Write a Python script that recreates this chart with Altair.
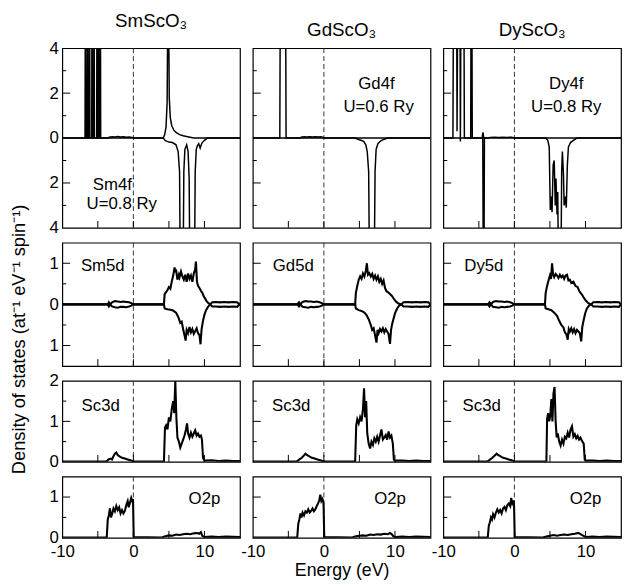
import altair as alt
import pandas as pd

FONT = "Liberation Sans"

COMPOUNDS = ["SmScO₃", "GdScO₃", "DyScO₃"]
Y_TITLE = "Density of states (at⁻¹ eV⁻¹ spin⁻¹)"
X_TITLE = "Energy (eV)"

# ---------------- Row 1: 4f (spin up positive, spin down plotted negative)
SM4F_UP = [(-10, 0), (-6.8, 0), (-6.76, 6), (-6.72, 6), (-6.68, 0), (-6.5, 0), (-6.47, 6), (-6.43, 6),
           (-6.4, 0), (-6.22, 0), (-6.19, 6), (-6.15, 6), (-6.12, 0), (-5.86, 0), (-5.83, 6), (-5.79, 6),
           (-5.76, 0), (-5.58, 0), (-5.55, 6), (-5.51, 6), (-5.48, 0), (-5.16, 0), (-5.13, 6), (-5.09, 6),
           (-5.06, 0), (-4.93, 0), (-4.9, 6), (-4.86, 6), (-4.83, 0), (-4.7, 0), (-4.67, 6), (-4.63, 6),
           (-4.6, 0), (-3.6, 0), (-3.4, 0.04), (-3.0, 0.06), (-2.6, 0.05), (-2.2, 0.07), (-1.8, 0.05),
           (-1.4, 0.06), (-1.0, 0.04), (-0.6, 0.05), (-0.2, 0.03), (0.2, 0), (4.2, 0), (4.4, 0.15),
           (4.6, 0.5), (4.75, 1.6), (4.85, 6), (4.95, 6), (5.05, 1.8), (5.2, 0.9), (5.4, 0.55), (5.7, 0.35),
           (6.0, 0.25), (6.5, 0.15), (7.0, 0.1), (7.8, 0.05), (8.5, 0), (15, 0)]
SM4F_DN = [(-10, 0), (4.2, 0), (4.5, 0.12), (5.0, 0.18), (5.5, 0.2), (6.0, 0.3), (6.3, 0.6), (6.5, 1.5),
           (6.6, 6), (7.0, 6), (7.1, 1.5), (7.25, 0.5), (7.5, 0.3), (7.7, 0.6), (7.85, 1.8), (7.95, 6),
           (8.6, 6), (8.7, 1.5), (8.85, 0.5), (9.0, 0.35), (9.2, 0.25), (9.4, 0.45), (9.55, 0.3),
           (9.7, 0.2), (10.0, 0.1), (10.4, 0), (15, 0)]
GD4F_UP = [(-10, 0), (-6.2, 0), (-6.14, 6), (-5.38, 6), (-5.32, 0), (-3.4, 0), (-3.2, 0.04), (-2.8, 0.06),
           (-2.4, 0.05), (-2.0, 0.06), (-1.6, 0.05), (-1.2, 0.06), (-0.8, 0.05), (-0.4, 0.06),
           (-0.1, 0.03), (0.2, 0), (15, 0)]
GD4F_DN = [(-10, 0), (4.4, 0), (4.7, 0.05), (5.2, 0.1), (5.6, 0.15), (5.9, 0.3), (6.1, 0.6), (6.3, 1.5),
           (6.42, 6), (7.08, 6), (7.2, 1.5), (7.35, 0.5), (7.6, 0.25), (8.0, 0.12), (8.5, 0.05), (9.0, 0),
           (15, 0)]
DY4F_UP = [(-10, 0), (-8.65, 0), (-8.58, 6), (-8.12, 6), (-8.07, 0.3), (-7.98, 6), (-7.66, 6),
           (-7.6, -0.15), (-7.52, 6), (-7.1, 6), (-7.04, 0), (-6.15, 0), (-6.1, 6), (-5.98, 6),
           (-5.93, 0), (-4.55, 0), (-4.42, 0.25), (-4.32, 0), (-3.7, 0), (-3.4, 0.03), (-2.8, 0.04),
           (-2.2, 0.03), (-1.6, 0.04), (-1.0, 0.03), (-0.4, 0.04), (0, 0), (15, 0)]
DY4F_DN = [(-10, 0), (-4.45, 0), (-4.38, 6), (-4.28, 6), (-4.22, 0), (4.4, 0), (4.7, 0.1), (4.9, 0.4),
           (5.05, 3.2), (5.15, 2.6), (5.3, 3.3), (5.45, 1.2), (5.6, 1.0), (5.75, 3.0), (5.85, 1.8),
           (6.0, 3.4), (6.1, 2.4), (6.2, 6), (6.55, 6), (6.65, 1.5), (6.75, 0.6), (6.9, 1.6), (7.0, 3.0),
           (7.15, 2.6), (7.3, 3.1), (7.45, 1.2), (7.6, 0.4), (7.9, 0.2), (8.3, 0.1), (8.8, 0), (15, 0)]

# ---------------- Row 2: 5d
SM5D_UP = [(-10, 0), (-3.6, 0), (-3.45, 0.05), (-3.25, 0), (-3.0, 0.05), (-2.6, 0.08), (-2.2, 0.07),
           (-1.8, 0.06), (-1.4, 0.07), (-1.0, 0.06), (-0.6, 0.05), (-0.3, 0.03), (0, 0), (4.3, 0),
           (4.4, 0.25), (4.6, 0.3), (4.8, 0.35), (5.0, 0.42), (5.2, 0.38), (5.4, 0.55), (5.6, 0.7),
           (5.8, 0.9), (5.9, 0.78), (6.0, 0.85), (6.2, 0.6), (6.4, 0.72), (6.5, 0.66), (6.7, 0.8),
           (6.9, 0.68), (7.1, 0.6), (7.3, 0.72), (7.5, 0.55), (7.7, 0.75), (7.9, 0.62), (8.1, 0.7),
           (8.3, 0.55), (8.5, 0.75), (8.7, 0.85), (8.8, 1.04), (8.95, 0.55), (9.1, 0.45), (9.3, 0.4),
           (9.5, 0.33), (9.7, 0.28), (9.9, 0.2), (10.1, 0.14), (10.3, 0.08), (10.5, 0.04), (10.8, 0),
           (11.1, 0.05), (11.6, 0.06), (12.2, 0.05), (12.8, 0.06), (13.4, 0.05), (14.0, 0.06),
           (14.6, 0.05), (14.9, 0), (15, 0.03)]
SM5D_DN = [(-10, 0), (-3.6, 0), (-3.45, 0.05), (-3.25, 0), (-3.0, 0.05), (-2.6, 0.07), (-2.2, 0.08),
           (-1.8, 0.06), (-1.4, 0.06), (-1.0, 0.07), (-0.6, 0.05), (-0.3, 0.03), (0, 0), (4.3, 0),
           (4.4, 0.1), (4.8, 0.12), (5.2, 0.13), (5.6, 0.15), (6.0, 0.2), (6.3, 0.3), (6.6, 0.45),
           (6.8, 0.42), (7.0, 0.6), (7.2, 0.75), (7.35, 0.88), (7.5, 0.62), (7.7, 0.7), (7.9, 0.55),
           (8.1, 0.68), (8.3, 0.6), (8.5, 0.72), (8.7, 0.65), (8.9, 0.58), (9.1, 0.7), (9.3, 0.75),
           (9.45, 0.97), (9.6, 0.6), (9.8, 0.4), (10.0, 0.25), (10.2, 0.15), (10.5, 0.06), (10.8, 0),
           (11.1, 0.05), (11.6, 0.05), (12.2, 0.06), (12.8, 0.05), (13.4, 0.06), (14.0, 0.05),
           (14.6, 0.06), (14.9, 0), (15, 0.03)]
GD5D_UP = [(-10, 0), (-3.7, 0), (-3.5, 0.05), (-3.3, 0), (-3.0, 0.06), (-2.6, 0.08), (-2.2, 0.07),
           (-1.8, 0.07), (-1.4, 0.06), (-1.0, 0.07), (-0.6, 0.05), (-0.3, 0.03), (0, 0), (4.4, 0),
           (4.5, 0.28), (4.7, 0.45), (4.9, 0.6), (5.1, 0.68), (5.3, 0.62), (5.5, 0.75), (5.7, 0.68),
           (5.9, 0.82), (6.05, 1.0), (6.2, 0.72), (6.4, 0.76), (6.6, 0.68), (6.8, 0.74), (7.0, 0.62),
           (7.2, 0.7), (7.4, 0.6), (7.6, 0.68), (7.8, 0.55), (8.0, 0.62), (8.2, 0.5), (8.4, 0.58),
           (8.6, 0.4), (8.8, 0.32), (9.0, 0.3), (9.3, 0.25), (9.6, 0.2), (9.9, 0.12), (10.2, 0.06),
           (10.5, 0.02), (10.9, 0), (11.2, 0.05), (11.8, 0.06), (12.4, 0.05), (13.0, 0.06),
           (13.6, 0.05), (14.2, 0.06), (14.7, 0.05), (15, 0)]
GD5D_DN = [(-10, 0), (-3.7, 0), (-3.5, 0.05), (-3.3, 0), (-3.0, 0.06), (-2.6, 0.07), (-2.2, 0.08),
           (-1.8, 0.06), (-1.4, 0.07), (-1.0, 0.06), (-0.6, 0.05), (-0.3, 0.03), (0, 0), (4.4, 0),
           (4.5, 0.1), (4.9, 0.14), (5.3, 0.16), (5.7, 0.2), (6.0, 0.26), (6.3, 0.36), (6.6, 0.5),
           (6.8, 0.62), (7.0, 0.58), (7.2, 0.75), (7.4, 0.93), (7.55, 0.62), (7.7, 0.7), (7.9, 0.6),
           (8.1, 0.66), (8.3, 0.58), (8.5, 0.68), (8.7, 0.6), (8.9, 0.66), (9.1, 0.72), (9.3, 0.96),
           (9.45, 0.62), (9.6, 0.48), (9.8, 0.35), (10.0, 0.22), (10.3, 0.1), (10.6, 0.03), (10.9, 0),
           (11.2, 0.05), (11.8, 0.05), (12.4, 0.06), (13.0, 0.05), (13.6, 0.06), (14.2, 0.05),
           (14.7, 0.06), (15, 0)]
DY5D_UP = [(-10, 0), (-3.7, 0), (-3.5, 0.05), (-3.3, 0), (-3.0, 0.06), (-2.6, 0.08), (-2.2, 0.07),
           (-1.8, 0.07), (-1.4, 0.06), (-1.0, 0.07), (-0.6, 0.05), (-0.3, 0.03), (0, 0), (4.3, 0),
           (4.4, 0.28), (4.6, 0.45), (4.8, 0.58), (5.0, 0.7), (5.15, 0.62), (5.3, 1.0), (5.45, 0.72),
           (5.6, 0.66), (5.8, 0.74), (6.0, 0.7), (6.2, 0.64), (6.4, 0.72), (6.6, 0.66), (6.8, 0.7),
           (7.0, 0.62), (7.2, 0.7), (7.4, 0.72), (7.6, 0.58), (7.8, 0.6), (8.0, 0.52), (8.3, 0.55),
           (8.6, 0.45), (8.9, 0.42), (9.2, 0.3), (9.5, 0.24), (9.8, 0.15), (10.1, 0.08), (10.4, 0.03),
           (10.8, 0), (11.1, 0.05), (11.7, 0.06), (12.3, 0.05), (12.9, 0.06), (13.5, 0.05),
           (14.1, 0.06), (14.7, 0.05), (15, 0)]
DY5D_DN = [(-10, 0), (-3.7, 0), (-3.5, 0.05), (-3.3, 0), (-3.0, 0.06), (-2.6, 0.07), (-2.2, 0.08),
           (-1.8, 0.06), (-1.4, 0.07), (-1.0, 0.06), (-0.6, 0.05), (-0.3, 0.03), (0, 0), (4.3, 0),
           (4.4, 0.1), (4.8, 0.12), (5.2, 0.14), (5.6, 0.2), (6.0, 0.28), (6.3, 0.4), (6.6, 0.5),
           (6.9, 0.56), (7.1, 0.68), (7.3, 0.72), (7.5, 0.86), (7.65, 0.6), (7.8, 0.66), (8.0, 0.58),
           (8.2, 0.68), (8.4, 0.6), (8.6, 0.7), (8.8, 0.62), (9.0, 0.66), (9.2, 0.7), (9.4, 0.9),
           (9.55, 0.55), (9.75, 0.38), (9.95, 0.22), (10.2, 0.1), (10.5, 0.03), (10.8, 0),
           (11.1, 0.05), (11.7, 0.05), (12.3, 0.06), (12.9, 0.05), (13.5, 0.06), (14.1, 0.05),
           (14.7, 0.06), (15, 0)]

# ---------------- Row 3: Sc3d
SM_SC3D = [(-10, 0.005), (-4, 0.005), (-3.7, 0.02), (-3.5, 0.06), (-3.2, 0.08), (-3.0, 0.06),
           (-2.8, 0.14), (-2.6, 0.2), (-2.4, 0.23), (-2.2, 0.17), (-2.0, 0.14), (-1.6, 0.1),
           (-1.2, 0.08), (-0.8, 0.06), (-0.4, 0.04), (0, 0.01), (4.3, 0.01), (4.45, 0.85), (4.6, 0.9),
           (4.8, 0.8), (5.0, 1.1), (5.2, 1.0), (5.4, 1.3), (5.6, 1.5), (5.75, 1.2), (5.9, 2.0),
           (6.05, 1.1), (6.2, 0.6), (6.4, 0.5), (6.6, 0.35), (6.8, 0.45), (7.0, 0.55), (7.2, 0.65),
           (7.4, 0.8), (7.55, 0.95), (7.7, 0.7), (7.9, 0.6), (8.1, 0.72), (8.3, 0.62), (8.5, 0.7),
           (8.7, 0.78), (8.9, 0.65), (9.1, 0.7), (9.3, 0.62), (9.5, 0.65), (9.65, 0.55), (9.8, 0.1),
           (10.0, 0.03), (11, 0.04), (12, 0.02), (13, 0.03), (14, 0.02), (15, 0.02)]
GD_SC3D = [(-10, 0.005), (-4, 0.005), (-3.7, 0.02), (-3.4, 0.07), (-3.1, 0.1), (-2.8, 0.16),
           (-2.6, 0.2), (-2.4, 0.17), (-2.1, 0.14), (-1.7, 0.1), (-1.3, 0.08), (-0.9, 0.06),
           (-0.5, 0.04), (0, 0.01), (4.4, 0.01), (4.55, 0.9), (4.7, 1.05), (4.9, 0.95), (5.1, 1.1),
           (5.3, 1.0), (5.5, 1.3), (5.65, 1.82), (5.8, 1.1), (5.95, 1.5), (6.1, 0.7), (6.3, 0.45),
           (6.5, 0.33), (6.7, 0.5), (6.9, 0.42), (7.1, 0.58), (7.3, 0.5), (7.5, 0.62), (7.7, 0.5),
           (7.9, 0.65), (8.1, 0.8), (8.3, 0.55), (8.5, 0.6), (8.7, 0.66), (8.9, 0.55), (9.1, 0.75),
           (9.3, 0.6), (9.5, 0.65), (9.7, 0.45), (9.85, 0.05), (10.0, 0.03), (11, 0.03), (12, 0.02),
           (13, 0.03), (14, 0.02), (15, 0.02)]
DY_SC3D = [(-10, 0.005), (-4, 0.005), (-3.7, 0.02), (-3.4, 0.06), (-3.1, 0.1), (-2.8, 0.15),
           (-2.5, 0.2), (-2.3, 0.17), (-2.0, 0.14), (-1.6, 0.1), (-1.2, 0.08), (-0.8, 0.06),
           (-0.4, 0.04), (0, 0.01), (4.5, 0.01), (4.6, 1.05), (4.75, 1.2), (4.9, 1.0), (5.05, 1.15),
           (5.2, 1.55), (5.35, 1.0), (5.5, 1.7), (5.65, 1.85), (5.8, 1.0), (5.95, 0.6), (6.1, 0.7),
           (6.3, 0.5), (6.5, 0.4), (6.7, 0.55), (6.9, 0.45), (7.1, 0.62), (7.3, 0.58), (7.5, 0.72),
           (7.7, 0.6), (7.9, 0.8), (8.1, 0.88), (8.3, 0.62), (8.5, 0.68), (8.7, 0.58), (8.9, 0.64),
           (9.1, 0.55), (9.3, 0.6), (9.5, 0.52), (9.75, 0.45), (9.9, 0.05), (10.1, 0.03), (11, 0.03),
           (12, 0.02), (13, 0.03), (14, 0.02), (15, 0.02)]

# ---------------- Row 4: O2p
SM_O2P = [(-10, 0.005), (-3.75, 0.01), (-3.6, 0.45), (-3.45, 0.55), (-3.3, 0.72), (-3.15, 0.5),
          (-3.0, 0.58), (-2.8, 0.72), (-2.6, 0.65), (-2.4, 0.78), (-2.2, 0.68), (-2.0, 0.75),
          (-1.8, 0.6), (-1.6, 0.68), (-1.4, 0.6), (-1.2, 0.66), (-1.0, 0.8), (-0.8, 0.9), (-0.65, 0.75),
          (-0.5, 0.85), (-0.3, 0.98), (-0.15, 0.9), (-0.05, 0.95), (0.05, 0.02), (4.0, 0.01),
          (4.5, 0.04), (5.0, 0.06), (5.5, 0.05), (6.0, 0.08), (6.5, 0.07), (7.0, 0.09), (7.5, 0.1),
          (8.0, 0.09), (8.5, 0.11), (9.0, 0.12), (9.3, 0.1), (9.5, 0.14), (9.7, 0.05), (10.0, 0.02),
          (11, 0.03), (12, 0.02), (13, 0.03), (15, 0.02)]
GD_O2P = [(-10, 0.005), (-3.75, 0.01), (-3.6, 0.35), (-3.45, 0.45), (-3.3, 0.6), (-3.15, 0.5),
          (-3.0, 0.62), (-2.8, 0.55), (-2.6, 0.65), (-2.4, 0.62), (-2.2, 0.7), (-2.0, 0.62),
          (-1.8, 0.66), (-1.6, 0.72), (-1.4, 0.65), (-1.2, 0.7), (-1.0, 0.78), (-0.8, 0.85),
          (-0.65, 0.92), (-0.5, 1.06), (-0.35, 0.9), (-0.2, 0.95), (-0.05, 0.85), (0.05, 0.02),
          (4.0, 0.01), (4.5, 0.04), (5.0, 0.05), (5.5, 0.06), (6.0, 0.05), (6.5, 0.08), (7.0, 0.07),
          (7.5, 0.09), (8.0, 0.08), (8.5, 0.1), (9.0, 0.09), (9.3, 0.12), (9.6, 0.08), (9.8, 0.03),
          (10.2, 0.02), (11, 0.03), (12, 0.02), (13, 0.03), (15, 0.02)]
DY_O2P = [(-10, 0.005), (-3.75, 0.01), (-3.6, 0.3), (-3.45, 0.38), (-3.3, 0.5), (-3.15, 0.45),
          (-3.0, 0.58), (-2.8, 0.5), (-2.6, 0.62), (-2.4, 0.7), (-2.2, 0.62), (-2.0, 0.68),
          (-1.8, 0.6), (-1.6, 0.72), (-1.4, 0.76), (-1.2, 0.68), (-1.0, 0.8), (-0.8, 0.84),
          (-0.6, 0.78), (-0.45, 0.98), (-0.3, 0.85), (-0.15, 0.92), (-0.05, 0.8), (0.05, 0.02),
          (4.0, 0.01), (4.5, 0.03), (5.0, 0.05), (5.5, 0.07), (6.0, 0.05), (6.5, 0.07), (7.0, 0.08),
          (7.5, 0.07), (8.0, 0.09), (8.5, 0.1), (9.0, 0.12), (9.3, 0.09), (9.6, 0.06), (9.9, 0.03),
          (10.2, 0.02), (11, 0.03), (12, 0.02), (13, 0.03), (15, 0.02)]

# panel annotations: (text, energy, dos)
LABELS = [
    [[("Sm4f", -2.96, -2.08), ("U=0.8 Ry", -1.64, -2.92)],
     [("Gd4f", 7.4, 2.39), ("U=0.6 Ry", 7.7, 1.37)],
     [("Dy4f", 7.3, 2.39), ("U=0.8 Ry", 7.3, 1.37)]],
    [[("Sm5d", -4.3, 0.94)], [("Gd5d", -4.3, 0.94)], [("Dy5d", -4.3, 0.94)]],
    [[("Sc3d", -4.6, 1.37)], [("Sc3d", -4.6, 1.37)], [("Sc3d", -4.6, 1.37)]],
    [[("O2p", 10.0, 0.94)], [("O2p", 9.3, 0.94)], [("O2p", 10.0, 0.94)]],
]

SERIES = [
    [(SM4F_UP, SM4F_DN), (GD4F_UP, GD4F_DN), (DY4F_UP, DY4F_DN)],
    [(SM5D_UP, SM5D_DN), (GD5D_UP, GD5D_DN), (DY5D_UP, DY5D_DN)],
    [(SM_SC3D, None), (GD_SC3D, None), (DY_SC3D, None)],
    [(SM_O2P, None), (GD_O2P, None), (DY_O2P, None)],
]

X_DOMAIN = [-10, 15]
X_LABELS = [-10, 0, 10]
X_TICKS = [-5, 0, 5, 10]
Y_DOMAINS = [[-4, 4], [-1.5, 1.5], [0, 2], [0, 1.5]]
Y_LABELS = [[4, 2, 0, -2, -4], [1, 0, -1], [0, 1, 2], [0, 1]]
Y_MAJOR = [[2, -2], [1, -1], [1], [1]]
Y_MINOR = [[3, 1, -1, -3], [0.5, -0.5], [0.5, 1.5], [0.5]]

W = 180
HEIGHTS = [182, 125, 82, 62]
ROW_LW = [1.5, 2.1, 2.1, 2.1]


def frame(pairs):
    return pd.DataFrame(pairs, columns=["E", "D"])


def panel(r, c):
    H = HEIGHTS[r]
    LW = ROW_LW[r]
    xs = alt.Scale(domain=X_DOMAIN, nice=False, zero=False)
    ys = alt.Scale(domain=Y_DOMAINS[r], nice=False, zero=False)
    if r == 3:
        if c == 1:
            xax = alt.Axis(values=X_LABELS, title=X_TITLE, labelExpr="'' + datum.value")
        else:
            xax = alt.Axis(values=X_LABELS, title=None, labelExpr="'' + datum.value")
    else:
        xax = None
    if c == 0:
        yax = alt.Axis(values=Y_LABELS[r], labelExpr="'' + abs(datum.value)", title=None)
    else:
        yax = None

    def X():
        return alt.X("E:Q", scale=xs, axis=xax)

    def Y():
        return alt.Y("D:Q", scale=ys, axis=yax)

    layers = []
    layers.append(
        alt.Chart(pd.DataFrame({"E": [0]}))
        .mark_rule(strokeDash=[5, 3], color="#333333", strokeWidth=1)
        .encode(x=X())
    )
    up, dn = SERIES[r][c]
    layers.append(
        alt.Chart(frame(up)).mark_line(color="black", strokeWidth=LW, clip=True)
        .encode(x=X(), y=Y())
    )
    if dn is not None:
        layers.append(
            alt.Chart(frame(dn)).transform_calculate(D="-datum.D")
            .mark_line(color="black", strokeWidth=LW, clip=True)
            .encode(x=X(), y=Y())
        )
    layers.append(
        alt.Chart(pd.DataFrame({"E": X_TICKS})).mark_rule(color="black", strokeWidth=1)
        .encode(x=X(), y=alt.value(H), y2=alt.value(H - 7))
    )
    layers.append(
        alt.Chart(pd.DataFrame({"D": Y_MAJOR[r]})).mark_rule(color="black", strokeWidth=1)
        .encode(y=Y(), x=alt.value(0), x2=alt.value(8))
    )
    layers.append(
        alt.Chart(pd.DataFrame({"D": Y_MINOR[r]})).mark_rule(color="black", strokeWidth=1)
        .encode(y=Y(), x=alt.value(0), x2=alt.value(4))
    )
    lab = pd.DataFrame(LABELS[r][c], columns=["t", "E", "D"])
    layers.append(
        alt.Chart(lab).mark_text(font=FONT, fontSize=17, color="black")
        .encode(x=X(), y=Y(), text="t:N")
    )
    ch = alt.layer(*layers).properties(width=W, height=H)
    if r == 0:
        ch = ch.properties(title=alt.TitleParams(
            COMPOUNDS[c], font=FONT, fontSize=19, fontWeight="normal",
            color="black", anchor="middle", offset=8))
    return ch


panels = [panel(r, c) for r in range(4) for c in range(3)]

chart = (
    alt.concat(*panels, columns=3, spacing={"row": 15, "column": 13}, bounds="flush", align="each")
    .properties(
        title=alt.TitleParams(Y_TITLE, orient="left", anchor="middle", font=FONT, fontSize=18.5,
                              fontWeight="normal", color="black", offset=20, dx=-44),
        padding={"left": 2, "top": 0, "right": 0, "bottom": 0},
    )
    .configure_view(stroke="black", strokeWidth=1.2)
    .configure_axis(domain=False, ticks=False, grid=False, labelFont=FONT, labelFontSize=17,
                    labelColor="black", titleFont=FONT, titleFontSize=18,
                    titleFontWeight="normal", titleColor="black", labelFlush=False,
                    labelPadding=4)
    .configure_axisX(labelPadding=6, titlePadding=2)
)

chart.save("out.html", embed_options={"renderer": "svg", "actions": False})
